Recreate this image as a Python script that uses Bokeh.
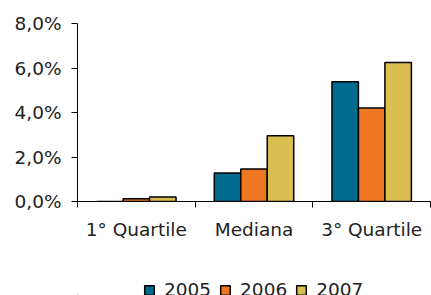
import numpy as np
from bokeh.plotting import figure
from bokeh.layouts import column
from bokeh.models import (ColumnDataSource, Range1d, FixedTicker, Legend, LegendItem)
from bokeh.transform import dodge
from bokeh.embed import file_html
from bokeh.resources import INLINE

categories = ["1° Quartile", "Mediana", "3° Quartile"]
years = ["2005", "2006", "2007"]
v2005 = [0.0, 1.28, 5.38]
v2006 = [0.12, 1.46, 4.2]
v2007 = [0.2, 2.95, 6.25]
y_ticks = [0, 2, 4, 6, 8]
y_labels = ["0,0%", "2,0%", "4,0%", "6,0%", "8,0%"]
colors = ["#006a8f", "#ef7622", "#dbbe51"]

FONT = "DejaVu Sans"
FS = "18.5px"
TXT = "#222222"

n = len(categories)
centers = np.arange(n) + 0.5
src = ColumnDataSource(dict(x=centers, y2005=v2005, y2006=v2006, y2007=v2007))

p = figure(x_range=Range1d(0, n), y_range=Range1d(0, 8),
           width=431, height=261, output_backend="svg",
           toolbar_location=None,
           min_border_left=77, min_border_top=23, min_border_right=1,
           min_border_bottom=60)
p.outline_line_color = None
p.xgrid.visible = False
p.ygrid.visible = False
p.background_fill_color = "white"
p.border_fill_color = "white"

bw = 0.225
for i, (yr, col) in enumerate(zip(years, colors)):
    p.vbar(x=dodge("x", (i - 1) * bw), top="y" + yr, width=bw,
           source=src, fill_color=col, line_color="black", line_width=1.5)

ya = p.yaxis[0]
ya.ticker = FixedTicker(ticks=y_ticks, minor_ticks=[])
ya.major_label_overrides = {t: l for t, l in zip(y_ticks, y_labels)}
ya.major_tick_in = 0
ya.major_tick_out = 6
ya.minor_tick_out = 0
ya.minor_tick_in = 0
ya.major_label_standoff = 10
ya.axis_line_color = "black"
ya.major_tick_line_color = "black"
ya.major_label_text_font = FONT
ya.major_label_text_font_size = FS
ya.major_label_text_color = TXT

xa = p.xaxis[0]
xa.ticker = FixedTicker(ticks=list(centers), minor_ticks=list(range(n + 1)))
xa.major_label_overrides = {float(c): lab for c, lab in zip(centers, categories)}
xa.major_tick_in = 0
xa.major_tick_out = 0
xa.minor_tick_in = 0
xa.minor_tick_out = 6
xa.minor_tick_line_color = "black"
xa.axis_line_color = "black"
xa.major_label_standoff = 11
xa.major_label_text_font = FONT
xa.major_label_text_font_size = FS
xa.major_label_text_color = TXT

# legend host: swatch renderers sit outside its visible range, only the legend shows
pl = figure(width=431, height=34, output_backend="svg", toolbar_location=None,
            x_range=Range1d(0, 1), y_range=Range1d(0, 1),
            x_axis_location=None, y_axis_location=None, min_border=0)
pl.outline_line_color = None
pl.xgrid.visible = False
pl.ygrid.visible = False
swatch_src = ColumnDataSource(dict(x=[-5.0], top=[-5.0]))
items = []
for yr, col in zip(years, colors):
    r = pl.vbar(x="x", top="top", width=0.1, source=swatch_src,
                fill_color=col, line_color="black", line_width=1.5)
    items.append(LegendItem(label=yr, renderers=[r]))

leg = Legend(items=items, orientation="horizontal", location=(66, -5),
             label_text_font=FONT, label_text_font_size=FS, label_text_color=TXT,
             glyph_width=12, glyph_height=12, label_standoff=9, spacing=8,
             border_line_color=None, background_fill_alpha=0, margin=0, padding=0)
pl.add_layout(leg, "center")

layout = column(p, pl, spacing=0)
open("out.html", "w").write(file_html(layout, INLINE))
